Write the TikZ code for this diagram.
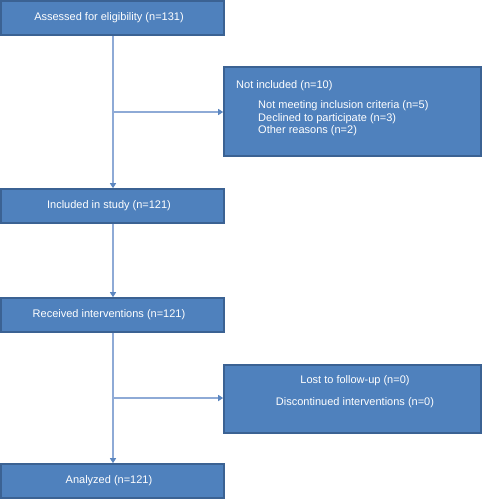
\documentclass[tikz,border=0pt]{standalone}
\usepackage{fontspec}
\setmainfont{Liberation Sans}
\usetikzlibrary{arrows.meta}
\definecolor{boxfill}{HTML}{4F81BD}
\definecolor{boxline}{HTML}{3B6293}
\definecolor{connline}{HTML}{8EAAD6}
\definecolor{tipcol}{HTML}{5B86C0}
\tikzset{
  box/.style={draw=boxline, line width=1.6pt, fill=boxfill, rectangle, inner sep=0pt},
  txt/.style={text=white, font=\fontsize{11}{12.5}\selectfont, inner sep=0pt},
  conn/.style={draw=connline, line width=1.3pt, -{Triangle[width=6pt,length=5pt,color=tipcol]}}
}
\begin{document}
\begin{tikzpicture}[x=1pt,y=-1pt]
\useasboundingbox (0,0) rectangle (482,500);
% boxes
\node[box, minimum width=223pt, minimum height=34pt] (b1) at (112.5,18) {};
\node[txt] (t1) at (109,18) {Assessed for eligibility (n=131)};
\node[box, minimum width=257pt, minimum height=89pt] (b2) at (352.5,111.5) {};
\node[txt, anchor=west] (t2a) at (236,86) {Not included (n=10)};
\node[txt, anchor=west] (t2b) at (258,106) {Not meeting inclusion criteria (n=5)};
\node[txt, anchor=west] (t2c) at (258,118.5) {Declined to participate (n=3)};
\node[txt, anchor=west] (t2d) at (258,131) {Other reasons (n=2)};
\node[box, minimum width=223pt, minimum height=34pt] (b3) at (112.5,206) {};
\node[txt] (t3) at (109,206) {Included in study (n=121)};
\node[box, minimum width=223pt, minimum height=34pt] (b4) at (112.5,315) {};
\node[txt] (t4) at (109,315) {Received interventions (n=121)};
\node[box, minimum width=257pt, minimum height=68pt] (b5) at (352.5,399) {};
\node[txt] (t5a) at (355,381) {Lost to follow-up (n=0)};
\node[txt] (t5b) at (355,403) {Discontinued interventions (n=0)};
\node[box, minimum width=223pt, minimum height=34pt] (b6) at (112.5,481) {};
\node[txt] (t6) at (109,481) {Analyzed (n=121)};
% connectors
\coordinate (j1) at (113,112);
\coordinate (j2) at (113,398);
\draw[conn] (b1.south -| j1) -- (b3.north -| j1);
\draw[conn] (b3.south -| j1) -- (b4.north -| j1);
\draw[conn] (b4.south -| j2) -- (b6.north -| j2);
\draw[conn] (j1) -- (b2.west |- j1);
\draw[conn] (j2) -- (b5.west |- j2);
\end{tikzpicture}
\end{document}
